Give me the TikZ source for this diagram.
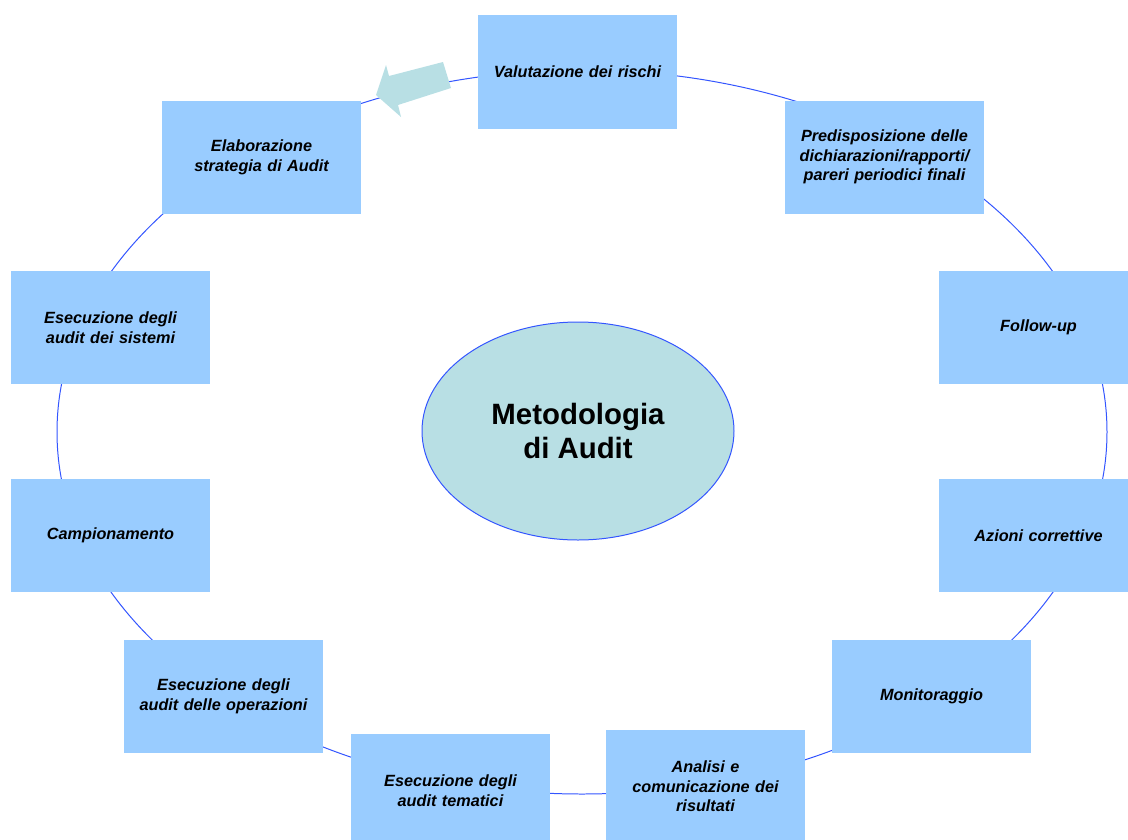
\documentclass[tikz,border=0pt]{standalone}
\usepackage{fontspec}
\setmainfont{Liberation Sans}
\usetikzlibrary{shapes.geometric}
\definecolor{boxblue}{HTML}{99CCFF}
\definecolor{ringblue}{HTML}{3355FF}
\definecolor{teal}{HTML}{B8DFE4}
\tikzset{
  stepbox/.style={fill=boxblue, draw=none, minimum width=199bp, minimum height=113bp,
    inner sep=0pt, align=center, text width=194bp,
    font=\fontsize{16.3}{19.5}\selectfont\bfseries\itshape},
  ring/.style={draw=ringblue, line width=1pt},
  centre/.style={ellipse, fill=teal, draw=ringblue, line width=1pt,
    minimum width=312bp, minimum height=218bp, inner sep=0pt, align=center,
    font=\fontsize{29.5}{35}\selectfont\bfseries},
  bigarrow/.style={fill=teal, draw=none}
}
\begin{document}
\begin{tikzpicture}[x=1bp,y=-1bp]
\useasboundingbox (0,0) rectangle (1128,840);
\draw[ring] (582,432) ellipse [x radius=525, y radius=362];
\node[stepbox] (n1) at (577.5,72) {Valutazione dei rischi};
\node[stepbox] (n2) at (884.5,157) {Predisposizione delle\\dichiarazioni/rapporti/\\pareri periodici finali};
\node[stepbox] (n3) at (1038.5,327.5) {Follow-up};
\node[stepbox] (n4) at (1038.5,535.5) {Azioni correttive};
\node[stepbox] (n5) at (931.5,696.5) {Monitoraggio};
\node[stepbox] (n6) at (705.5,786.5) {Analisi e\\comunicazione dei\\risultati};
\node[stepbox] (n7) at (450.5,790.5) {Esecuzione degli\\audit tematici};
\node[stepbox] (n8) at (223.5,696.5) {Esecuzione degli\\audit delle operazioni};
\node[stepbox] (n9) at (110.5,535.5) {Campionamento};
\node[stepbox] (n10) at (110.5,327.5) {Esecuzione degli\\audit dei sistemi};
\node[stepbox] (n11) at (261.5,157.5) {Elaborazione\\strategia di Audit};
\node[centre] (c) at (578,431) {Metodologia\\di Audit};
\fill[bigarrow] (376,95) -- (386,65) -- (389,76) -- (443,62) -- (451,88) -- (398,105) -- (401,117) -- cycle;
\end{tikzpicture}
\end{document}
